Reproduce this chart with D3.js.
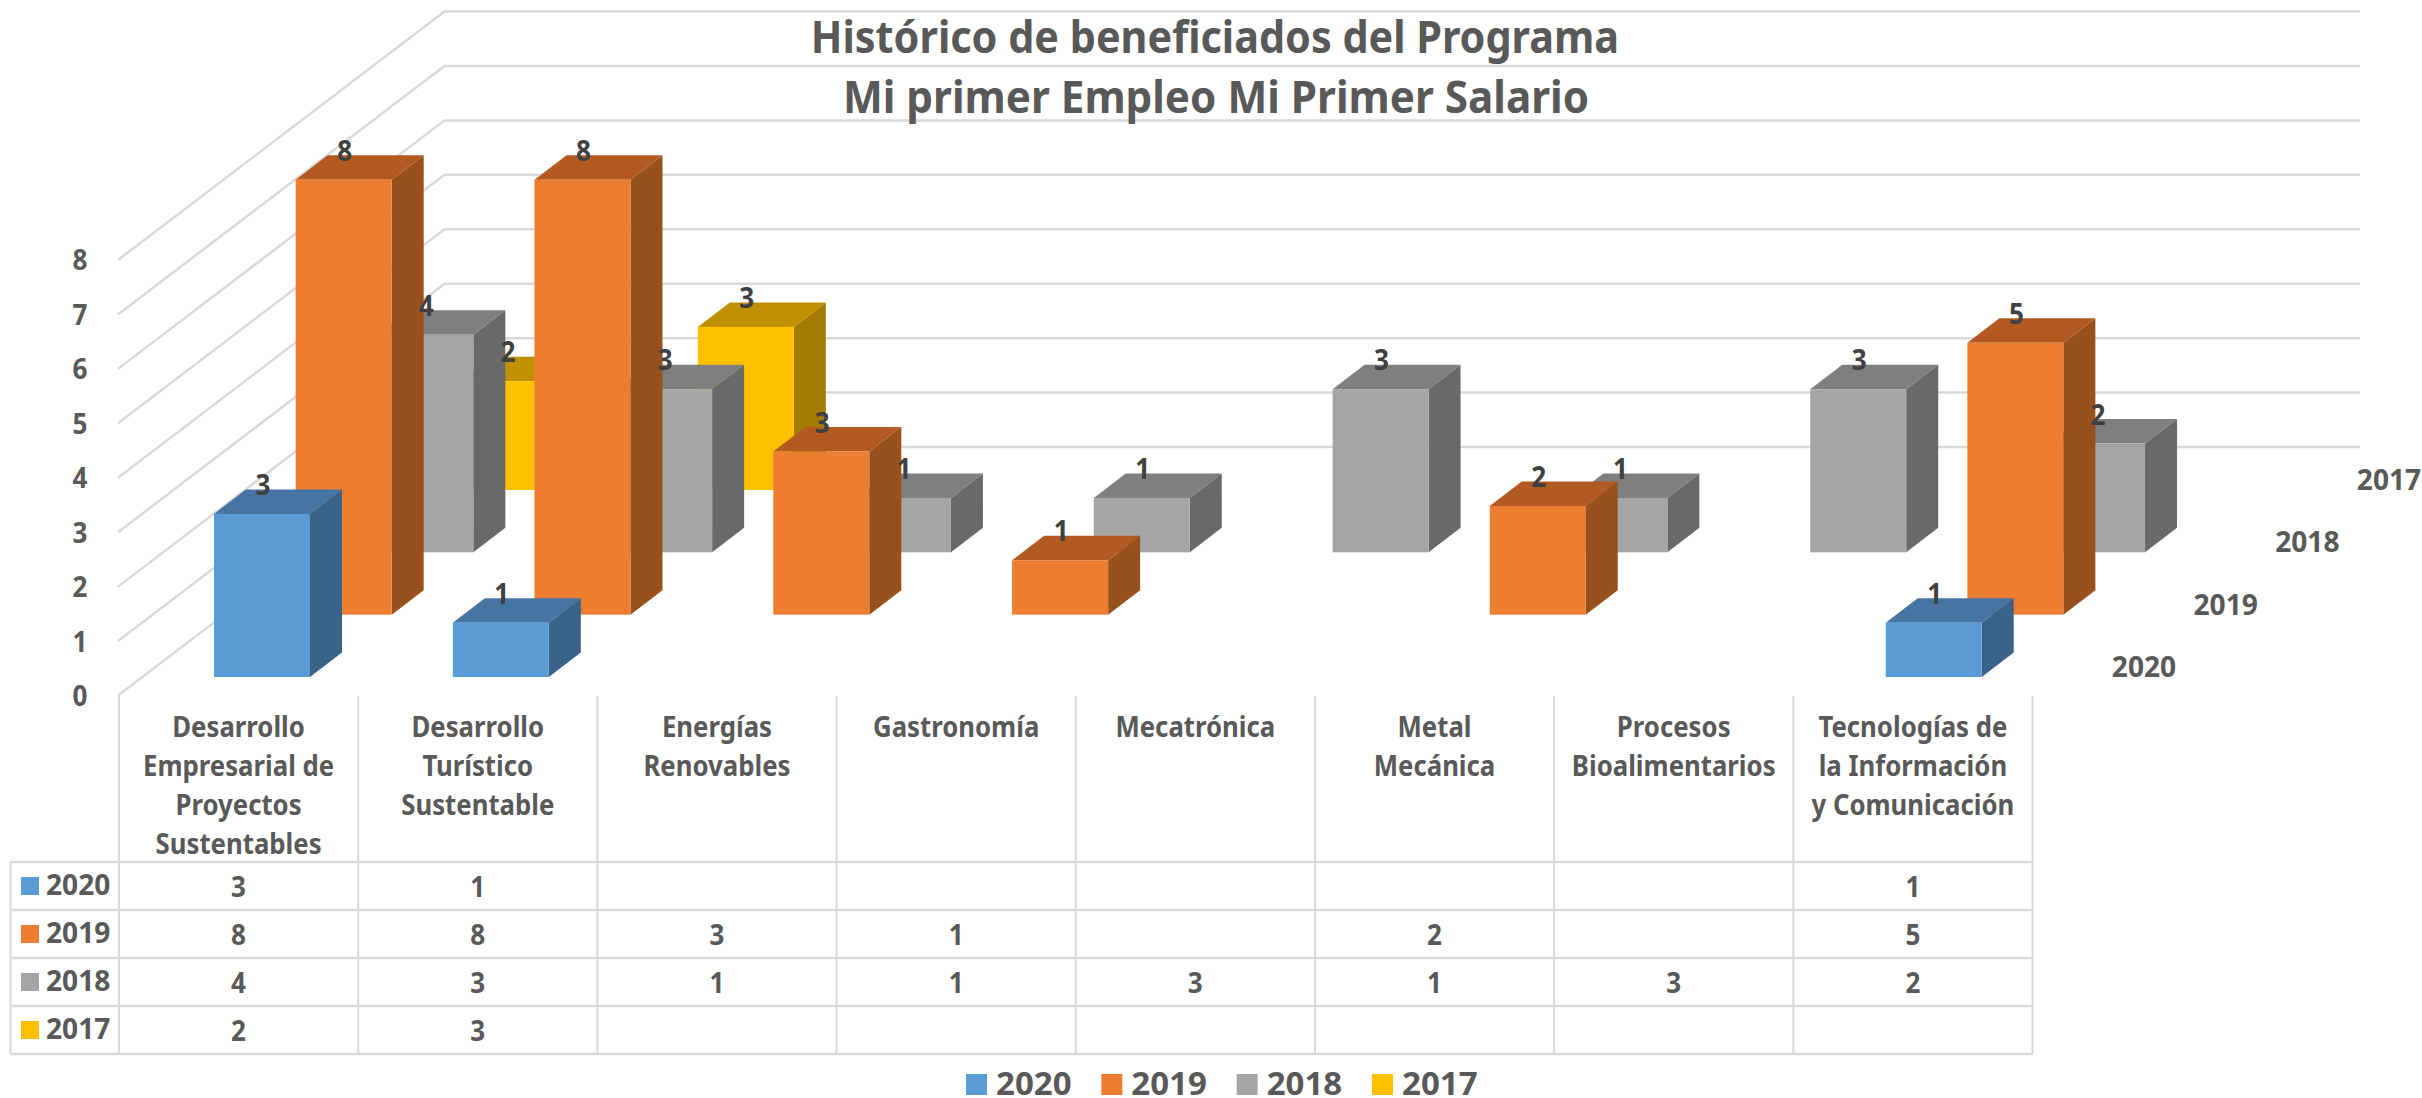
<!DOCTYPE html>
<html><head><meta charset="utf-8">
<script src="https://cdn.jsdelivr.net/npm/d3@7/dist/d3.min.js"></script>
<style>html,body{margin:0;background:#fff}svg{display:block}text{font-family:"Noto Sans",sans-serif;font-weight:700}</style>
</head><body><svg id="c" width="2422" height="1098"></svg>
<script>
const titleLines=["Histórico de beneficiados del Programa","Mi primer Empleo Mi Primer Salario"];
const categories=[["Desarrollo","Empresarial de","Proyectos","Sustentables"],["Desarrollo","Turístico","Sustentable"],["Energías","Renovables"],["Gastronomía"],["Mecatrónica"],["Metal","Mecánica"],["Procesos","Bioalimentarios"],["Tecnologías de","la Información","y Comunicación"]];
const seriesNames=["2020","2019","2018","2017"];
const v2020=[3,1,null,null,null,null,null,1];
const v2019=[8,8,3,1,null,2,null,5];
const v2018=[4,3,1,1,3,1,3,2];
const v2017=[2,3,null,null,null,null,null,null];
const seriesValues=[v2020,v2019,v2018,v2017];
const yTicks=[0,1,2,3,4,5,6,7,8];
const colors=["#5B9BD5","#ED7D31","#A5A5A5","#FFC000"];
const topColors=["#4675A3","#B35A22","#7F7F7F","#C09000"];
const sideColors=["#3A638A","#98501D","#696969","#A37B00"];
const svg=d3.select("#c");
const GRID="#D9D9D9",TXT="#595959";
const sx=d3.scaleLinear().domain([0,8]).range([119,2032.5]);
const barX=d3.scaleLinear().domain([0,7]).range([214,1885.7]);
const depthX=d3.scaleLinear().domain([0,3]).range([0,245]);
const depthY=d3.scaleLinear().domain([0,3]).range([677,490]);
const h=d3.scaleLinear().domain([0,8]).range([0,-435]);
const barW=96,dx=32,dy=24.5;
function label(g,x,y,t,size,opts={}){
  const n=g.append("text").attr("x",x).attr("y",y).text(t).attr("font-size",size)
    .attr("fill",opts.fill||TXT).attr("text-anchor",opts.anchor||"middle");
  if(opts.sq){n.attr("transform",`translate(${x},0) scale(${opts.sq},1) translate(${-x},0)`);}
  return n;
}
const wall=svg.append("g").attr("stroke",GRID).attr("stroke-width",2.5).attr("fill","none");
const wy=d3.scaleLinear().domain([0,8]).range([447,11.5]);
yTicks.forEach(t=>{
  const y=wy(t);
  wall.append("path").attr("d",d3.line()([[118,y+248.5],[444.5,y],[2360,y]]));
});
const tbl=svg.append("g").attr("stroke",GRID).attr("fill","none");
const rowY=d3.scaleLinear().domain([0,4]).range([862,1054]);
d3.range(0,9).forEach(i=>tbl.append("line").attr("x1",sx(i)).attr("x2",sx(i)).attr("y1",696).attr("y2",1054).attr("stroke-width",2));
d3.range(0,5).forEach(i=>tbl.append("line").attr("x1",10.5).attr("x2",sx(8)).attr("y1",rowY(i)).attr("y2",rowY(i)).attr("stroke-width",2.5));
tbl.append("line").attr("x1",10.5).attr("x2",10.5).attr("y1",862).attr("y2",1054).attr("stroke-width",2);
const yl=svg.append("g");
yTicks.forEach(t=>label(yl,80,wy(t)+248.5+10.5,String(t),29,{sq:.9}));
const bars=svg.append("g");
d3.range(3,-1,-1).forEach(s=>{
  seriesValues[s].forEach((v,c)=>{
    if(v==null)return;
    const x0=barX(c)+depthX(s),y0=depthY(s),t=y0+h(v),x1=x0+barW;
    bars.append("path").attr("fill",sideColors[s]).attr("d",d3.line()([[x1,y0],[x1+dx,y0-dy],[x1+dx,t-dy],[x1,t]])+"Z");
    bars.append("path").attr("fill",topColors[s]).attr("d",d3.line()([[x0,t],[x0+dx,t-dy],[x1+dx,t-dy],[x1,t]])+"Z");
    bars.append("rect").attr("x",x0).attr("y",t).attr("width",barW).attr("height",y0-t).attr("fill",colors[s]);
  });
});
const dl=svg.append("g");
d3.range(3,-1,-1).forEach(s=>seriesValues[s].forEach((v,c)=>{
  if(v==null)return;
  label(dl,barX(c)+depthX(s)+barW/2+1,depthY(s)+h(v)-19,String(v),29,{fill:"#404040",sq:.9});
}));
const da=svg.append("g");
seriesNames.forEach((n,s)=>label(da,2144+depthX(s)*1,depthY(s)+0,n,29,{sq:.97}));
const tg=svg.append("g");
label(tg,1215,53,titleLines[0],44,{sq:.94});
label(tg,1216,113.5,titleLines[1],44,{sq:.96});
const cl=svg.append("g");
categories.forEach((lines,c)=>lines.forEach((l,i)=>{
  label(cl,(sx(c)+sx(c+1))/2,737+i*39,l,28,{sq:.92});
}));
const tb=svg.append("g");
seriesNames.forEach((n,s)=>{
  const ym=(rowY(s)+rowY(s+1))/2;
  tb.append("rect").attr("x",21).attr("y",ym-9).attr("width",18).attr("height",18).attr("fill",colors[s]);
  label(tb,46,ym+9,n,29,{anchor:"start",sq:.97});
  seriesValues[s].forEach((v,c)=>{ if(v!=null) label(tb,(sx(c)+sx(c+1))/2,ym+11,String(v),29,{sq:.9}); });
});
const lg=svg.append("g");
const legendX=d3.scaleLinear().domain([0,3]).range([966,1372]);
seriesNames.forEach((n,s)=>{
  const x=legendX(s);
  lg.append("rect").attr("x",x).attr("y",1074).attr("width",21).attr("height",21).attr("fill",colors[s]);
  label(lg,x+30,1095,n,33,{anchor:"start"});
});
</script></body></html>
